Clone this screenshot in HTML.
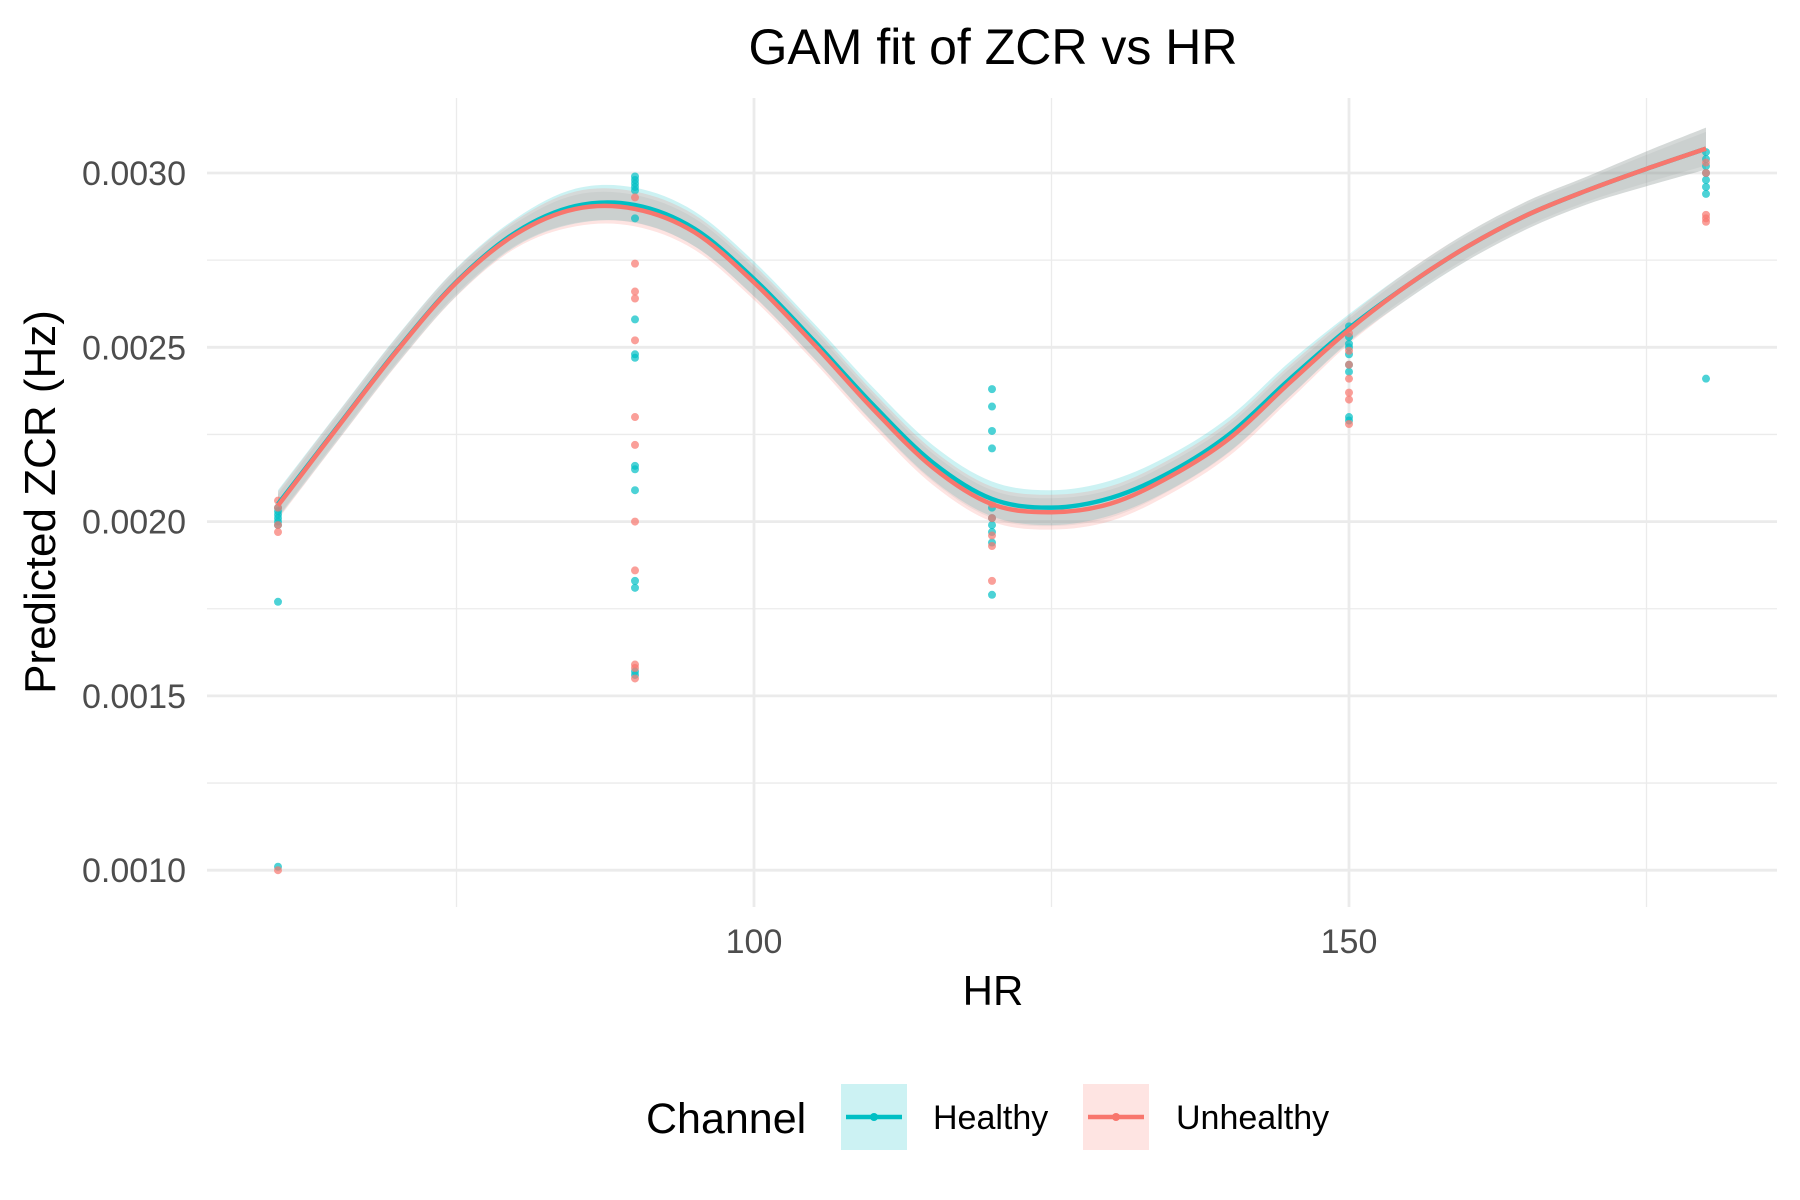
<!DOCTYPE html>
<html><head><meta charset="utf-8"><style>
body{margin:0;background:#fff}
svg{display:block;font-family:"Liberation Sans",Arial,sans-serif}
</style></head><body>
<svg id="chart" width="1800" height="1200" viewBox="0 0 1800 1200">
<rect x="0" y="0" width="1800" height="1200" fill="#fff"/>
<g id="grid"></g>
<g id="ribbons"></g>
<g id="points"></g>
<g id="lines"></g>
<g id="axes"></g>
<text x="993" y="64" font-size="50" text-anchor="middle" fill="#000">GAM fit of ZCR vs HR</text>
<text x="0" y="0" font-size="44" text-anchor="middle" fill="#000" transform="translate(55,502) rotate(-90)">Predicted ZCR (Hz)</text>
<text x="993" y="1005" font-size="42" text-anchor="middle" fill="#000">HR</text>
<g>
<text x="646" y="1133" font-size="43" fill="#000">Channel</text>
<g>
<rect x="841" y="1084" width="66" height="66" fill="#00BFC4" fill-opacity="0.2"/>
<line x1="846" y1="1117" x2="902" y2="1117" stroke="#00BFC4" stroke-width="4.5"/>
<circle cx="874" cy="1117" r="4" fill="#00BFC4"/>
<text x="933" y="1129" font-size="34" fill="#000">Healthy</text>
</g>
<g>
<rect x="1083" y="1084" width="66" height="66" fill="#F8766D" fill-opacity="0.2"/>
<line x1="1088" y1="1117" x2="1144" y2="1117" stroke="#F8766D" stroke-width="4.5"/>
<circle cx="1116" cy="1117" r="4" fill="#F8766D"/>
<text x="1176" y="1129" font-size="34" fill="#000">Unhealthy</text>
</g>
</g>
</svg>
<script>
const hrGrid = [60,65,70,75,80,85,90,95,100,105,110,115,120,125,130,135,140,145,150,155,160,165,170,175,180];
const fitHealthy = [0.002050,0.002272,0.002492,0.002688,0.002830,0.002905,0.002908,0.002840,0.002696,0.002520,0.002335,0.002170,0.002065,0.002040,0.002068,0.002142,0.002252,0.002408,0.002555,0.002680,0.002790,0.002880,0.002950,0.003012,0.003070];
const fitUnhealthy = [0.002046,0.002270,0.002490,0.002686,0.002825,0.002897,0.002897,0.002830,0.002686,0.002510,0.002323,0.002156,0.002050,0.002027,0.002052,0.002130,0.002240,0.002398,0.002550,0.002680,0.002790,0.002880,0.002950,0.003012,0.003070];
const seHealthy = [0.00004,0.00004,0.00004,0.00004,0.00004,0.00005,0.00005,0.00005,0.00005,0.00005,0.00005,0.00005,0.00005,0.00005,0.00005,0.00005,0.00005,0.00005,0.00004,0.00004,0.00004,0.00004,0.00004,0.00005,0.00006];
const seUnhealthy = [0.00004,0.00004,0.00004,0.00004,0.00004,0.00005,0.00005,0.00005,0.00005,0.00005,0.00005,0.00005,0.00005,0.00005,0.00005,0.00005,0.00005,0.00005,0.00004,0.00004,0.00004,0.00004,0.00004,0.00005,0.00006];
const ptsHealthyHR = [60,60,60,60,60,60,60,60, 90,90,90,90,90,90,90,90,90,90,90,90,90,90,90,90, 120,120,120,120,120,120,120,120,120,120, 150,150,150,150,150,150,150,150,150, 180,180,180,180,180,180,180,180];
const ptsHealthyV = [0.00204,0.00203,0.00202,0.00201,0.00200,0.00199,0.00177,0.00101, 0.00299,0.00298,0.00297,0.00296,0.00295,0.00287,0.00258,0.00248,0.00247,0.00216,0.00215,0.00209,0.00183,0.00181,0.00157,0.00156, 0.00238,0.00233,0.00226,0.00221,0.00204,0.00201,0.00199,0.00197,0.00194,0.00179, 0.00256,0.00253,0.00251,0.00250,0.00248,0.00245,0.00243,0.00230,0.00229, 0.00306,0.00304,0.00302,0.00300,0.00298,0.00296,0.00294,0.00241];
const ptsUnhealthyHR = [60,60,60,60,60, 90,90,90,90,90,90,90,90,90,90,90,90, 120,120,120,120,120, 150,150,150,150,150,150,150, 180,180,180,180,180];
const ptsUnhealthyV = [0.00206,0.00204,0.00199,0.00197,0.00100, 0.00293,0.00274,0.00266,0.00264,0.00252,0.00230,0.00222,0.00200,0.00186,0.00159,0.00158,0.00155, 0.00205,0.00201,0.00196,0.00193,0.00183, 0.00254,0.00249,0.00245,0.00241,0.00237,0.00235,0.00228, 0.00303,0.00300,0.00288,0.00287,0.00286];
const xTicks = [100,150];
const xMinor = [75,125,175];
const yTicks = [0.0010,0.0015,0.0020,0.0025,0.0030];
const yTickLabels = ["0.0010","0.0015","0.0020","0.0025","0.0030"];
const yMinor = [0.00125,0.00175,0.00225,0.00275];

const NS="http://www.w3.org/2000/svg";
const PL=207,PR=1777,PT=98,PB=907;
function xS(h){return 754+(h-100)*11.9;}
function yS(v){return 173+(0.0030-v)/0.001*348.6;}
function mk(tag,attrs,parent){const e=document.createElementNS(NS,tag);for(const k in attrs)e.setAttribute(k,attrs[k]);parent.appendChild(e);return e;}
const grid=document.getElementById('grid');
yMinor.forEach(v=>{const l=mk('line',{x1:PL,x2:PR,y1:yS(v),y2:yS(v),stroke:'#EBEBEB','stroke-width':1.3},grid);

});
xMinor.forEach(h=>{const l=mk('line',{x1:xS(h),x2:xS(h),y1:PT,y2:PB,stroke:'#EBEBEB','stroke-width':1.3},grid);

});
yTicks.forEach(v=>{const l=mk('line',{x1:PL,x2:PR,y1:yS(v),y2:yS(v),stroke:'#EBEBEB','stroke-width':2.8},grid);

});
xTicks.forEach(h=>{const l=mk('line',{x1:xS(h),x2:xS(h),y1:PT,y2:PB,stroke:'#EBEBEB','stroke-width':2.8},grid);

});
const axes=document.getElementById('axes');
yTicks.forEach((v,i)=>{const t=mk('text',{x:186,y:yS(v)+12,'font-size':34,'text-anchor':'end',fill:'#4D4D4D'},axes);t.textContent=yTickLabels[i];

});
xTicks.forEach(h=>{const t=mk('text',{x:xS(h),y:953,'font-size':34,'text-anchor':'middle',fill:'#4D4D4D'},axes);t.textContent=String(h);

});

function segs(pts){let d='';
for(let i=0;i<pts.length-1;i++){const p0=pts[Math.max(i-1,0)],p1=pts[i],p2=pts[i+1],p3=pts[Math.min(i+2,pts.length-1)];
const c1=[p1[0]+(p2[0]-p0[0])/6,p1[1]+(p2[1]-p0[1])/6],c2=[p2[0]-(p3[0]-p1[0])/6,p2[1]-(p3[1]-p1[1])/6];
d+=' C'+c1[0]+','+c1[1]+' '+c2[0]+','+c2[1]+' '+p2[0]+','+p2[1];}return d;}
function smooth(pts){return 'M'+pts[0][0]+','+pts[0][1]+segs(pts);}
function ribbon(fit,se){const up=hrGrid.map((h,i)=>[xS(h),yS(fit[i]+se[i])]);const lo=hrGrid.map((h,i)=>[xS(h),yS(fit[i]-se[i])]).reverse();
return smooth(up)+' L'+lo[0][0]+','+lo[0][1]+segs(lo)+' Z';}
const rib=document.getElementById('ribbons');
const r1=mk('path',{d:ribbon(fitHealthy,seHealthy),fill:'#00BFC4','fill-opacity':0.2},rib);


const r2=mk('path',{d:ribbon(fitUnhealthy,seUnhealthy),fill:'#F8766D','fill-opacity':0.2},rib);


const r3=mk('path',{d:ribbon(fitUnhealthy,seUnhealthy.map(s=>s*0.8)),fill:'#8A9490','fill-opacity':0.13},rib);


const pg=document.getElementById('points');
ptsHealthyHR.forEach((h,i)=>{const c=mk('circle',{cx:xS(h),cy:yS(ptsHealthyV[i]),r:4,fill:'#00BFC4','fill-opacity':0.7},pg);

});
ptsUnhealthyHR.forEach((h,i)=>{const c=mk('circle',{cx:xS(h),cy:yS(ptsUnhealthyV[i]),r:4,fill:'#F8766D','fill-opacity':0.7},pg);

});
const lg=document.getElementById('lines');
const l1=mk('path',{d:smooth(hrGrid.map((h,i)=>[xS(h),yS(fitHealthy[i])])),fill:'none',stroke:'#00BFC4','stroke-width':4.5},lg);


const l2=mk('path',{d:smooth(hrGrid.map((h,i)=>[xS(h),yS(fitUnhealthy[i])])),fill:'none',stroke:'#F8766D','stroke-width':4.5},lg);


</script>
</body></html>
